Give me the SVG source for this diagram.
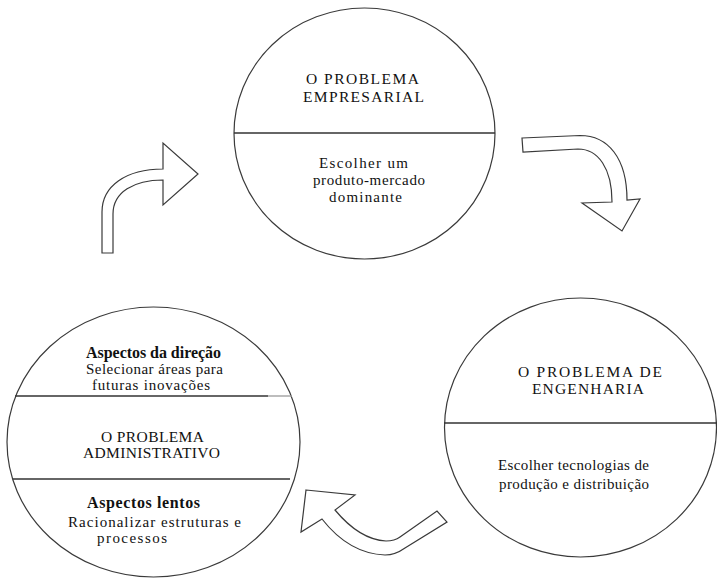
<svg xmlns="http://www.w3.org/2000/svg" width="717" height="578" viewBox="0 0 717 578">
<style>
.c{fill:#fff;stroke:#3a3a3a;stroke-width:1.2}
.d{stroke:#333;stroke-width:1.3;fill:none}
.t{font-family:"Liberation Serif","Times New Roman",serif;font-size:15px;fill:#111}
.u{font-family:"Liberation Serif","Times New Roman",serif;font-size:15.5px;fill:#111}
.b{font-family:"Liberation Serif","Times New Roman",serif;font-size:16px;font-weight:bold;fill:#111}
.a{fill:#fff;stroke:#3a3a3a;stroke-width:1.2;stroke-linejoin:miter}
</style>
<rect width="717" height="578" fill="#fff"/>
<g id="top">
<ellipse class="c" cx="364.5" cy="133.5" rx="130.5" ry="125.5"/>
<line class="d" x1="234" y1="133" x2="495" y2="133"/>
<text class="u" x="306" y="84" textLength="113" lengthAdjust="spacing">O PROBLEMA</text>
<text class="u" x="303" y="102" textLength="121" lengthAdjust="spacing">EMPRESARIAL</text>
<text class="t" x="319" y="168" textLength="89" lengthAdjust="spacing">Escolher um</text>
<text class="t" x="313" y="185" textLength="112" lengthAdjust="spacing">produto-mercado</text>
<text class="t" x="329" y="202" textLength="73" lengthAdjust="spacing">dominante</text>
</g>
<g id="right">
<ellipse class="c" cx="580.5" cy="427.5" rx="136" ry="129.5"/>
<line class="d" x1="444" y1="423" x2="717" y2="423"/>
<text class="u" x="518" y="377" textLength="144" lengthAdjust="spacing">O PROBLEMA DE</text>
<text class="u" x="532" y="394" textLength="112" lengthAdjust="spacing">ENGENHARIA</text>
<text class="t" x="498" y="470" textLength="151" lengthAdjust="spacing">Escolher tecnologias de</text>
<text class="t" x="499" y="489" textLength="150" lengthAdjust="spacing">produção e distribuição</text>
</g>
<g id="left">
<ellipse class="c" cx="153.5" cy="442" rx="146.5" ry="135"/>
<line class="d" x1="15" y1="396" x2="268" y2="396"/>
<line x1="268" y1="396" x2="292" y2="396" stroke="#999" stroke-width="1.3"/>
<line class="d" x1="13" y1="479" x2="290" y2="479"/>
<text class="b" x="86" y="358" textLength="135" lengthAdjust="spacing">Aspectos da direção</text>
<text class="t" x="86" y="374" textLength="137" lengthAdjust="spacing">Selecionar áreas para</text>
<text class="t" x="92" y="390" textLength="118" lengthAdjust="spacing">futuras inovações</text>
<text class="u" x="101" y="442" textLength="103" lengthAdjust="spacing">O PROBLEMA</text>
<text class="u" x="83" y="458" textLength="137" lengthAdjust="spacing">ADMINISTRATIVO</text>
<text class="b" x="87" y="508" textLength="113" lengthAdjust="spacing">Aspectos lentos</text>
<text class="t" x="68" y="527" textLength="173" lengthAdjust="spacing">Racionalizar estruturas e</text>
<text class="t" x="97" y="543" textLength="70" lengthAdjust="spacing">processos</text>
</g>
<g id="connectors">
<path class="a" d="M102,253 L102,212 C102,186 126,169 163,169 L163,143 L198,174 L163,205 L163,180 C134,180 113,192 113,214 L113,253 Z"/>
<path class="a" d="M522,138 L580,135.5 C608,135.5 627,158 627,200 L640,199 L622,231 L582,203 L612,202 C612,168 598,149 578,149 L523,152 Z"/>
<path class="a" d="M306,490 L355,495 L335,510 C350,528 366,540 386,541 C392,541 396,540 400,537 L437,511 L447,522 L405,548 C398,553 392,555 385,555 C360,554 340,542 322,519 L301,532 Z"/>
</g>
</svg>
